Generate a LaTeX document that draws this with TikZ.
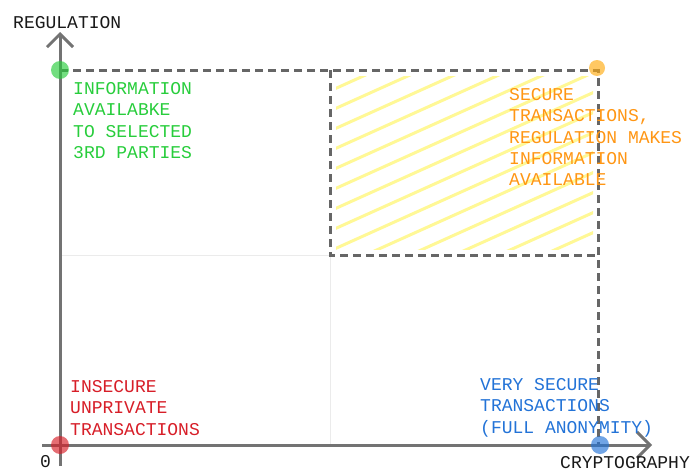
\documentclass[tikz,border=0pt]{standalone}
\usepackage{fontspec}
\setmainfont{Liberation Mono}
\usetikzlibrary{arrows.meta, positioning}

\definecolor{infogreen}{RGB}{40,205,60}
\definecolor{secorange}{RGB}{255,150,20}
\definecolor{insecred}{RGB}{215,30,40}
\definecolor{anonblue}{RGB}{35,115,215}
\definecolor{hatchyellow}{RGB}{255,248,150}

\begin{document}
\begin{tikzpicture}[x=1pt, y=-1pt,
	axisline/.style={draw=black!55, line width=3pt, -{Straight Barb[length=13pt, width=26pt]}},
	frame/.style={draw=black!60, line width=3pt, dash pattern=on 8pt off 5pt},
	faint/.style={draw=black!8, line width=1pt},
	hatch/.style={draw=hatchyellow, line width=3pt},
	dot/.style={fill=#1, opacity=0.65},
	quadtext/.style={anchor=north west, inner sep=0pt, align=left, text=#1,
		font=\fontsize{18}{21.4}\selectfont},
	axislabel/.style={anchor=north west, inner sep=0pt, text=black!90,
		font=\fontsize{18}{21.4}\selectfont}]
	\useasboundingbox (0,0) rectangle (691,471);
	% corners of the chart
	\coordinate (O) at (60,445);
	\coordinate (G) at (60,70);
	\coordinate (Q) at (598,70);
	\coordinate (B) at (598,445);
	\coordinate (M) at (330,70);
	\coordinate (C) at (330,255);
	\coordinate (R) at (598,255);
	\coordinate (ybot) at (60,466);
	\coordinate (ytop) at (60,32);
	\coordinate (xleft) at (42,445);
	\coordinate (xright) at (652,445);

	% hatched quadrant
	\begin{scope}
		\clip (336,76) rectangle (593,249);
		\foreach \k in {0,...,14}
			\draw[hatch] (330,91+20*\k) -- ++(280,-126);
	\end{scope}

	\draw[faint] (60,255) -- (C) -- (330,445);
	\draw[frame] (G) -- (Q) -- (B);
	\draw[frame] (M) -- (C) -- (R);

	\draw[axisline] (ybot) -- (ytop);
	\draw[axisline] (xleft) -- (xright);

	\fill[dot=infogreen] (G) circle[radius=9];
	\fill[dot=secorange!80!yellow] (597,68) circle[radius=8];
	\fill[dot=insecred] (O) circle[radius=9];
	\fill[dot=anonblue] (600,445) circle[radius=9];

	\node[axislabel] (ylab) at (13,16) {REGULATION};
	\node[axislabel] (xlab) at (560,456) {CRYPTOGRAPHY};
	\node[axislabel] (zero) at (40,455) {0};

	\node[quadtext=infogreen] (info) at (73,82) {INFORMATION\\AVAILABKE\\TO SELECTED\\3RD PARTIES};
	\node[quadtext=secorange] (secure) at (509,88) {SECURE\\TRANSACTIONS,\\REGULATION MAKES\\INFORMATION\\AVAILABLE};
	\node[quadtext=insecred] (insecure) at (70,380) {INSECURE\\UNPRIVATE\\TRANSACTIONS};
	\node[quadtext=anonblue] (anon) at (480,378) {VERY SECURE\\TRANSACTIONS\\(FULL ANONYMITY)};
\end{tikzpicture}
\end{document}
